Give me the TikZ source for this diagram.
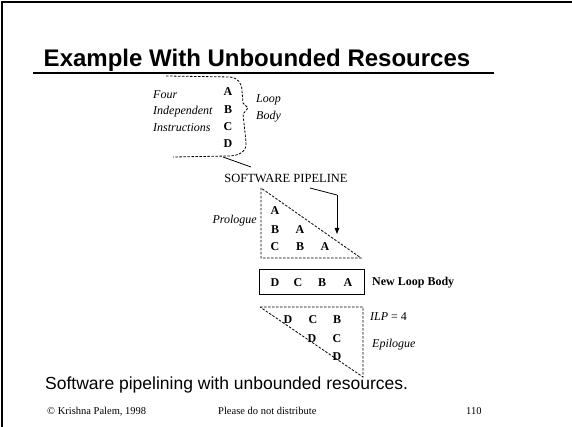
\documentclass[tikz,border=0pt]{standalone}
\usepackage{fontspec}
\setmainfont{Liberation Serif}
\newfontfamily\arialfont{Liberation Sans}
\usetikzlibrary{arrows.meta}

\begin{document}
\begin{tikzpicture}[x=1pt,y=-1pt,
  serif/.style={font=\fontsize{12.5}{14}\selectfont, inner sep=0pt},
  op/.style={font=\fontsize{12}{14}\selectfont\bfseries, inner sep=0pt},
  lab/.style={font=\fontsize{12}{14}\selectfont\itshape, inner sep=0pt},
  foot/.style={font=\fontsize{10.5}{12}\selectfont, inner sep=0pt, anchor=base west},
  outline/.style={dashed, dash pattern=on 2.5pt off 1.5pt, line width=0.8pt},
  link/.style={line width=0.8pt}]
\useasboundingbox (0,0) rectangle (572,427);
\fill[white] (0,0) rectangle (572,427);

% slide frame
\draw[line width=2pt] (572,2) -- (2,2) -- (2,427);

% title and rule
\node[font=\arialfont\bfseries\fontsize{24}{28}\selectfont, inner sep=0pt] (title) at (257,60) {Example With Unbounded Resources};
\draw[line width=1.5pt] (33,73) -- (494,73);

% original loop body
\node[lab, anchor=west] (four) at (153,95) {Four};
\node[lab, anchor=west] (indep) at (153,112) {Independent};
\node[lab, anchor=west] (instr) at (153,128) {Instructions};
\node[op] (a0) at (228,92) {A};
\node[op] (b0) at (228,110) {B};
\node[op] (c0) at (228,127) {C};
\node[op] (d0) at (228,144) {D};
\node[lab, anchor=west] (loop) at (256,100) {Loop};
\node[lab, anchor=west] (body) at (256,117) {Body};

\draw[outline] (166,76) -- (230,77) .. controls (238,78) and (242,83) .. (242,91)
  -- (243,103) -- (248,108) -- (243,114) -- (246,142)
  .. controls (247,151) and (240,156) .. (228,156) -- (173,157);

% software pipeline label and connectors
\node[serif] (sp) at (286,178) {SOFTWARE PIPELINE};
\coordinate (brc) at (223,157);
\draw[link] (brc) -- (251,167);
\coordinate (bend) at (337,195);
\coordinate (tip) at (337,234);
\draw[link] (310,188) -- (bend);
\draw[link, -{Triangle[length=6pt,width=4.5pt]}] (bend) -- (tip);

% prologue
\draw[outline] (261,188) -- (261,258) -- (361,258) -- cycle;
\node[lab, anchor=east] (pro) at (257,221) {Prologue};
\node[op] (pa1) at (275,211) {A};
\node[op] (pb1) at (275,230) {B};
\node[op] (pa2) at (300,230) {A};
\node[op] (pc1) at (275,247) {C};
\node[op] (pb2) at (300,247) {B};
\node[op] (pa3) at (325,247) {A};

% new loop body
\draw[line width=1pt] (259,270) rectangle (364,294);
\node[op] (nd) at (275,283) {D};
\node[op] (nc) at (298,283) {C};
\node[op] (nb) at (322,283) {B};
\node[op] (na) at (348,283) {A};
\node[op, anchor=west] (nlb) at (372,283) {New Loop Body};

% epilogue
\draw[outline] (260,307) -- (363,307) -- (363,377) -- cycle;
\node[op] (ed1) at (288,320) {D};
\node[op] (ec1) at (313,320) {C};
\node[op] (eb1) at (337,320) {B};
\node[op] (ed2) at (312,339) {D};
\node[op] (ec2) at (337,339) {C};
\node[op] (ed3) at (337,357) {D};
\node[lab, anchor=west] (ilp) at (370,317) {ILP\/ \normalfont= 4};
\node[lab, anchor=west] (epi) at (372,345) {Epilogue};

% caption and footer
\node[font=\arialfont\fontsize{17.5}{21}\selectfont, inner sep=0pt, anchor=base west] (cap) at (45,389) {Software pipelining with unbounded resources.};
\node[foot] (f1) at (47,414) {\char"00A9\ Krishna Palem, 1998};
\node[foot] (f2) at (218,414) {Please do not distribute};
\node[foot] (f3) at (466,414) {110};
\end{tikzpicture}
\end{document}
